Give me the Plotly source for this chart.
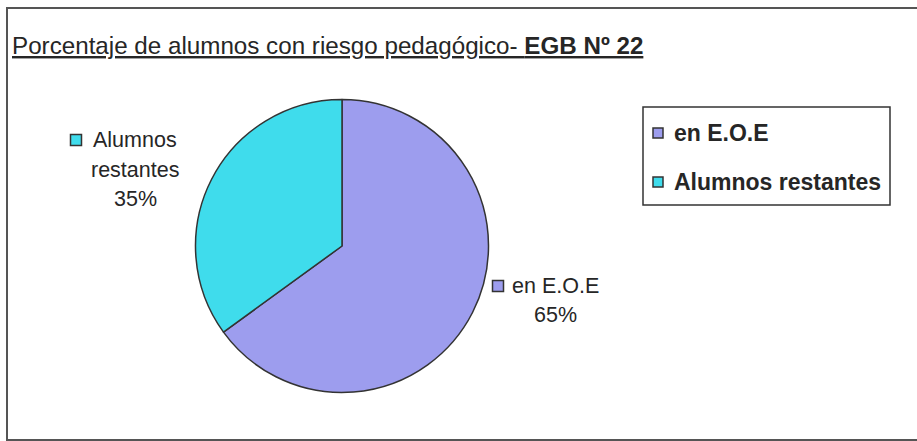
import plotly.graph_objects as go

W, H = 917, 441

# ---- data ----
categories = ["en E.O.E", "Alumnos restantes"]
values = [65, 35]
slice_colors = ["#9D9DEE", "#3FDCEC"]
title_plain = "Porcentaje de alumnos con riesgo pedagógico- "
title_bold = "EGB Nº 22"

total = sum(values)
percents = [round(v / total * 100) for v in values]


def px(x):
    return x / W


def py(y):
    return 1 - y / H


FONT = "Arial, 'Liberation Sans', sans-serif"
TXT = "#262626"

# pie geometry (pixels)
cx, cy, r = 342, 246, 146.5

fig = go.Figure(
    go.Pie(
        labels=categories,
        values=values,
        sort=False,
        direction="clockwise",
        rotation=0,
        marker=dict(colors=slice_colors, line=dict(color="#333333", width=1.5)),
        textinfo="none",
        hoverinfo="label+percent",
        showlegend=False,
        domain=dict(x=[px(cx - r), px(cx + r)], y=[py(cy + r), py(cy - r)]),
    )
)

shapes = []
annotations = []

# outer frame (cropped on the right)
shapes.append(dict(type="rect", xref="paper", yref="paper",
                   x0=px(7), x1=px(940), y0=py(440), y1=py(8),
                   line=dict(color="#555555", width=2), fillcolor="rgba(0,0,0,0)"))

# title
annotations.append(dict(
    xref="paper", yref="paper", x=px(10), y=py(45), xanchor="left", yanchor="middle",
    text=f"<u>{title_plain}<b>{title_bold}</b></u>", showarrow=False,
    font=dict(family=FONT, size=24.2, color=TXT)))


def square(x, y, color, s=11):
    shapes.append(dict(type="rect", xref="paper", yref="paper",
                       x0=px(x - s / 2), x1=px(x + s / 2),
                       y0=py(y + s / 2), y1=py(y - s / 2),
                       line=dict(color="#333333", width=1.5), fillcolor=color))


# data labels (pixel anchors for layout only)
label_layout = [
    # (square x, square y, text centre x, [line y ...])
    (498, 286, 555, [286, 315]),
    (76, 140, 135, [140, 170, 199]),
]
label_lines = [
    [categories[0], f"{percents[0]}%"],
    ["Alumnos", "restantes", f"{percents[1]}%"],
]
for i, (sx, sy, tx, ys) in enumerate(label_layout):
    square(sx, sy, slice_colors[i])
    for line, yy in zip(label_lines[i], ys):
        annotations.append(dict(
            xref="paper", yref="paper", x=px(tx), y=py(yy),
            xanchor="center", yanchor="middle", text=line, showarrow=False,
            font=dict(family=FONT, size=21.5, color=TXT)))

# legend box
shapes.append(dict(type="rect", xref="paper", yref="paper",
                   x0=px(643), x1=px(890), y0=py(205), y1=py(107),
                   line=dict(color="#333333", width=1.5), fillcolor="white"))
legend_y = [133, 182]
for i, cat in enumerate(categories):
    square(658, legend_y[i], slice_colors[i], s=10)
    annotations.append(dict(
        xref="paper", yref="paper", x=px(672), y=py(legend_y[i]),
        xanchor="left", yanchor="middle", text=f"<b>{cat}</b>", showarrow=False,
        font=dict(family=FONT, size=23, color=TXT)))

fig.update_layout(
    width=W, height=H,
    margin=dict(l=0, r=0, t=0, b=0),
    paper_bgcolor="white",
    plot_bgcolor="white",
    shapes=shapes,
    annotations=annotations,
)

fig.write_html("out.html", config={"displayModeBar": False},
               post_script="document.body.style.margin='0';")
